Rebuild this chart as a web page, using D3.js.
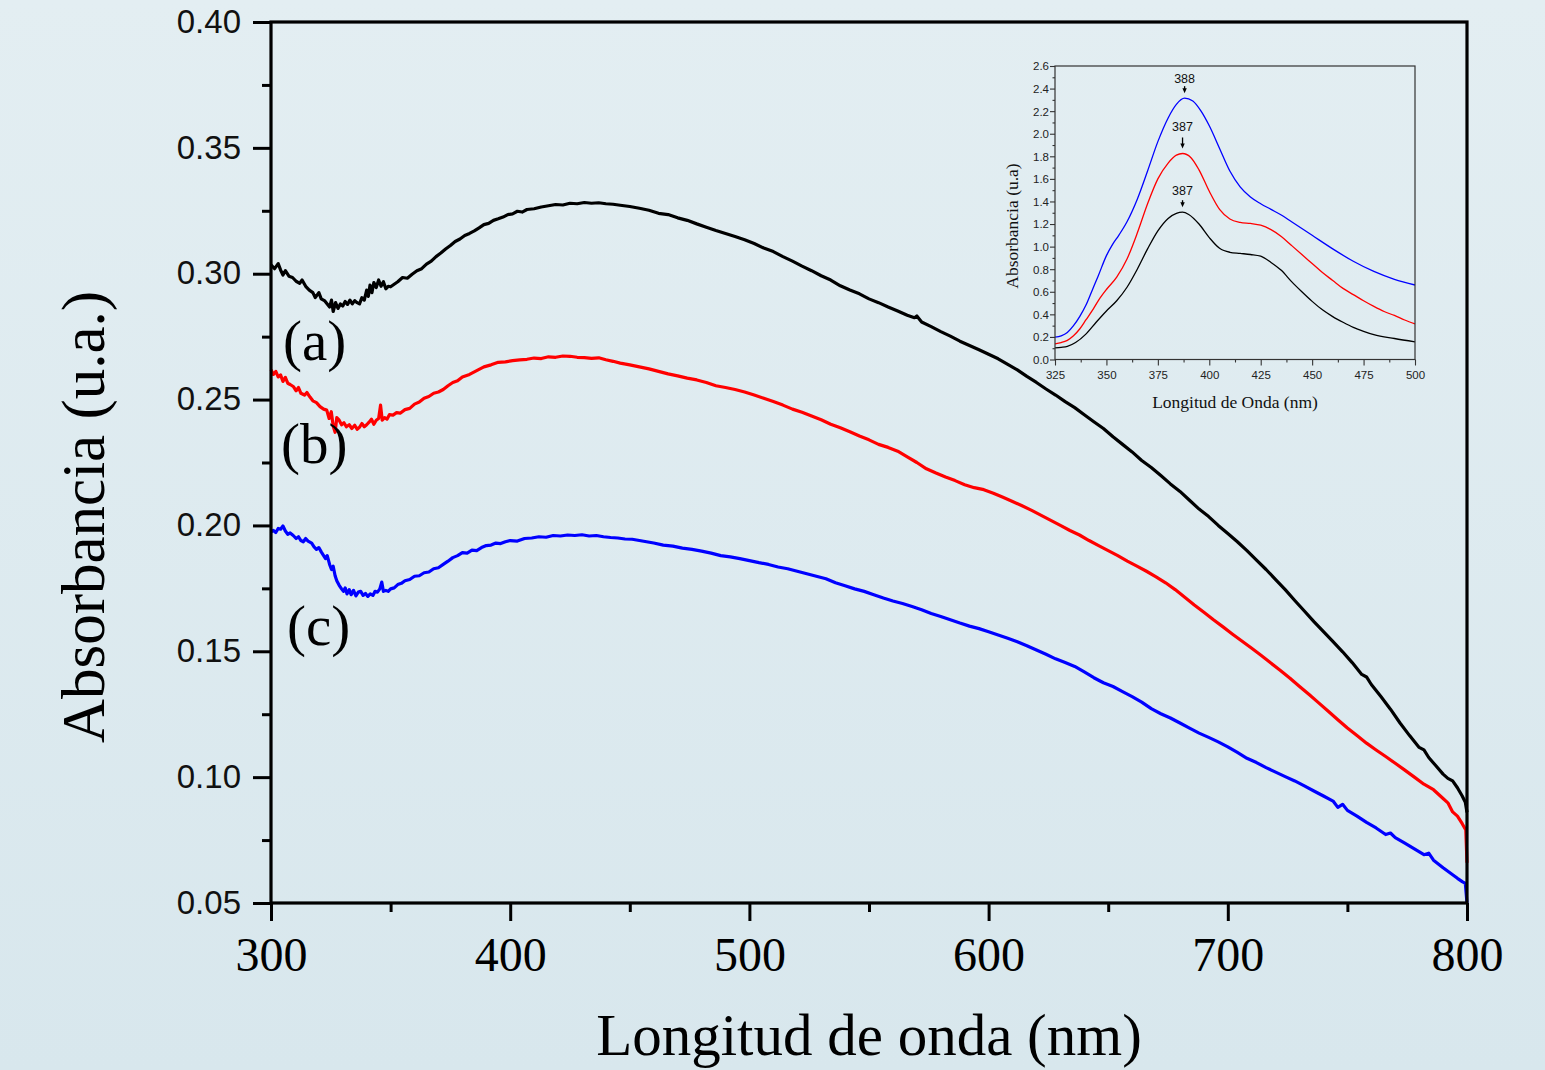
<!DOCTYPE html>
<html>
<head>
<meta charset="utf-8">
<script src="https://cdn.jsdelivr.net/npm/d3@7"></script>
<style>
  html, body { margin: 0; padding: 0; background: #dde9ee; }
  svg { display: block; }
</style>
</head>
<body>
<svg id="chart" width="1545" height="1070"></svg>
<script>
// ---- Main spectra: [wavelength nm, absorbance] ----
const seriesA = [
  [300,0.3035],[301.5,0.3020],[303,0.3040],[304,0.3015],[305,0.2995],[306,0.3012],[307.5,0.2990],[309,0.2985],
  [310.5,0.2970],[312,0.2962],[313,0.2975],[314.5,0.2950],[316,0.2935],[317.5,0.2925],[318.5,0.2905],[320,0.2925],
  [321,0.2900],[322.5,0.2892],[323.5,0.2880],[324.5,0.2868],[325.3,0.2895],[326,0.2850],[327,0.2885],[328,0.2862],
  [329,0.2880],[330,0.2872],[331,0.2890],[332,0.2878],[333,0.2895],[334,0.2880],[335,0.2893],[336,0.2885],
  [337,0.2880],[338,0.2905],[339,0.2895],[340,0.2935],[340.7,0.2910],[341.4,0.2955],[342.2,0.2925],[343,0.2965],
  [344,0.2945],[345,0.2975],[346,0.2950],[347,0.2968],[348,0.2940],[349,0.2950],[350,0.2948],[351.5,0.2958],
  [353,0.2968],[355,0.2985],[357,0.2982],[359,0.2998],[361,0.3012],[363,0.3020],[365,0.3038],[367,0.3050],
  [369,0.3068],[371,0.3082],[373,0.3098],[375,0.3112],[377,0.3128],[379,0.3138],[381,0.3152],[383,0.3160],
  [385,0.3170],[387,0.3182],[389,0.3195],[391,0.3200],[393,0.3212],[395,0.3218],[397,0.3225],[399,0.3235],
  [401,0.3238],[403,0.3248],[405,0.3245],[407,0.3255],[410,0.3258],[413,0.3265],[416,0.3270],[419,0.3275],
  [422,0.3273],[425,0.3280],[428,0.3278],[431,0.3283],[434,0.3280],[437,0.3282],[440,0.3278],[443,0.3276],
  [446,0.3272],[450,0.3267],[454,0.3260],[458,0.3252],[462,0.3240],[466,0.3235],[470,0.3222],[474,0.3212],
  [478,0.3198],[482,0.3185],[486,0.3172],[490,0.3160],[494,0.3148],[498,0.3135],[502,0.3120],[506,0.3102],
  [510,0.3088],[514,0.3068],[518,0.3050],[522,0.3030],[526,0.3012],[530,0.2992],[534,0.2975],[538,0.2952],
  [542,0.2935],[546,0.2920],[550,0.2900],[554,0.2885],[558,0.2868],[562,0.2852],[566,0.2835],[569,0.2825],
  [570,0.2832],[572,0.2808],[576,0.2790],[580,0.2770],[584,0.2752],[588,0.2732],[592,0.2715],[596,0.2698],
  [600,0.2680],[604,0.2662],[608,0.2640],[612,0.2618],[616,0.2592],[620,0.2568],[624,0.2542],[628,0.2518],
  [632,0.2492],[636,0.2468],[640,0.2440],[644,0.2412],[648,0.2385],[652,0.2352],[656,0.2322],[660,0.2292],
  [664,0.2258],[668,0.2230],[672,0.2198],[676,0.2165],[680,0.2135],[684,0.2100],[688,0.2065],[692,0.2035],
  [696,0.2000],[700,0.1968],[704,0.1935],[708,0.1900],[712,0.1862],[716,0.1825],[720,0.1785],[724,0.1745],
  [728,0.1702],[732,0.1660],[736,0.1618],[740,0.1578],[744,0.1538],[748,0.1498],[752,0.1455],[756,0.1408],
  [758,0.1398],[760,0.1368],[764,0.1320],[768,0.1270],[772,0.1215],[776,0.1165],[780,0.1118],[782,0.1108],
  [784,0.1078],[787,0.1045],[790,0.1012],[792,0.0995],[794,0.0985],[796,0.0958],[798,0.0925],[799.3,0.0900],
  [800,0.0860]
];

const seriesB = [
  [300,0.2618],[301,0.2600],[302,0.2612],[303,0.2590],[304,0.2598],[305,0.2572],[306,0.2588],[307,0.2565],
  [308,0.2560],[309.3,0.2552],[310.5,0.2535],[311.5,0.2548],[312.5,0.2525],[314,0.2518],[315,0.2528],[316.3,0.2510],
  [317.5,0.2495],[319,0.2488],[320.5,0.2472],[322,0.2462],[323.3,0.2458],[324.3,0.2425],[325.2,0.2452],[326,0.2395],
  [326.8,0.2370],[327.5,0.2428],[328.5,0.2418],[329.5,0.2400],[330.5,0.2408],[331.5,0.2392],[332.7,0.2400],[333.8,0.2385],
  [335,0.2398],[336,0.2382],[337,0.2390],[338,0.2405],[339,0.2392],[340,0.2400],[341,0.2410],[342,0.2422],
  [343,0.2402],[344,0.2418],[345,0.2425],[345.8,0.2478],[346.5,0.2418],[347.5,0.2428],[348.5,0.2422],[349.5,0.2440],
  [351,0.2438],[352.5,0.2448],[354,0.2446],[356,0.2460],[358,0.2465],[360,0.2482],[362,0.2490],[364,0.2505],
  [366,0.2512],[368,0.2525],[370,0.2530],[372,0.2540],[374,0.2555],[376,0.2568],[378,0.2575],[380,0.2590],
  [383,0.2600],[386,0.2615],[389,0.2630],[392,0.2638],[395,0.2648],[398,0.2650],[401,0.2655],[404,0.2658],
  [407,0.2660],[410,0.2665],[413,0.2663],[416,0.2670],[419,0.2668],[422,0.2673],[425,0.2672],[428,0.2668],
  [431,0.2667],[434,0.2664],[437,0.2666],[440,0.2658],[443,0.2652],[446,0.2645],[450,0.2638],[454,0.2630],
  [458,0.2622],[462,0.2612],[466,0.2602],[470,0.2594],[474,0.2585],[478,0.2578],[482,0.2568],[486,0.2555],
  [490,0.2548],[494,0.2540],[498,0.2530],[502,0.2518],[506,0.2505],[510,0.2492],[514,0.2478],[518,0.2462],
  [522,0.2450],[526,0.2435],[530,0.2420],[534,0.2402],[538,0.2388],[542,0.2372],[546,0.2355],[550,0.2340],
  [554,0.2322],[558,0.2310],[562,0.2295],[566,0.2272],[570,0.2250],[574,0.2225],[578,0.2208],[582,0.2192],
  [586,0.2178],[590,0.2162],[594,0.2150],[598,0.2142],[602,0.2128],[606,0.2112],[610,0.2095],[614,0.2078],
  [618,0.2060],[622,0.2040],[626,0.2020],[630,0.2000],[634,0.1980],[638,0.1962],[642,0.1940],[646,0.1920],
  [650,0.1900],[654,0.1880],[658,0.1858],[662,0.1838],[666,0.1818],[670,0.1796],[674,0.1772],[678,0.1745],
  [682,0.1715],[686,0.1684],[690,0.1655],[694,0.1625],[698,0.1597],[702,0.1568],[706,0.1540],[710,0.1512],
  [714,0.1483],[718,0.1453],[722,0.1424],[726,0.1393],[730,0.1360],[734,0.1328],[738,0.1295],[742,0.1262],
  [746,0.1228],[750,0.1195],[754,0.1165],[758,0.1135],[762,0.1108],[766,0.1082],[770,0.1055],[774,0.1028],
  [778,0.1000],[782,0.0972],[786,0.0950],[790,0.0915],[792,0.0898],[794,0.0862],[796,0.0845],[798,0.0815],
  [799.5,0.0790],[800,0.0660]
];

const seriesC = [
  [300,0.1975],[301,0.1980],[302,0.1972],[303,0.1988],[304,0.1985],[305,0.1998],[306,0.1978],[307,0.1965],
  [308,0.1970],[309.3,0.1960],[310.5,0.1948],[311.5,0.1955],[312.5,0.1940],[313.5,0.1935],[314.5,0.1948],[315.5,0.1938],
  [317,0.1930],[318,0.1915],[319,0.1905],[320,0.1912],[321,0.1895],[322,0.1880],[322.8,0.1868],[323.5,0.1880],
  [324.5,0.1845],[325.3,0.1825],[326,0.1838],[326.8,0.1800],[327.5,0.1780],[328.5,0.1762],[329.5,0.1748],[330.3,0.1738],
  [331,0.1752],[331.8,0.1728],[332.7,0.1745],[333.5,0.1725],[334.5,0.1742],[335.5,0.1720],[336.5,0.1735],[337.5,0.1738],
  [338.5,0.1722],[339.5,0.1730],[340.5,0.1718],[341.5,0.1728],[342.6,0.1722],[343.5,0.1738],[344.5,0.1735],[345.5,0.1748],
  [346.3,0.1775],[347,0.1738],[348,0.1742],[349,0.1738],[350,0.1748],[351.5,0.1752],[353,0.1765],[354.5,0.1770],
  [356,0.1780],[358,0.1785],[360,0.1798],[362,0.1800],[364,0.1812],[366,0.1815],[368,0.1828],[370,0.1832],
  [372,0.1845],[374,0.1858],[376,0.1872],[378,0.1880],[380,0.1892],[382,0.1890],[384,0.1902],[386,0.1900],
  [388,0.1912],[390,0.1920],[392,0.1922],[394,0.1930],[396,0.1928],[398,0.1935],[400,0.1940],[403,0.1938],
  [406,0.1948],[409,0.1950],[412,0.1955],[415,0.1953],[418,0.1960],[421,0.1958],[424,0.1962],[427,0.1960],
  [430,0.1963],[433,0.1958],[436,0.1960],[439,0.1955],[442,0.1952],[445,0.1950],[448,0.1946],[451,0.1945],
  [454,0.1940],[457,0.1935],[460,0.1930],[464,0.1922],[468,0.1918],[472,0.1910],[476,0.1905],[480,0.1898],
  [484,0.1890],[488,0.1880],[492,0.1875],[496,0.1868],[500,0.1860],[504,0.1852],[508,0.1845],[512,0.1835],
  [516,0.1828],[520,0.1818],[524,0.1808],[528,0.1798],[532,0.1788],[536,0.1772],[540,0.1760],[544,0.1748],
  [548,0.1738],[552,0.1725],[556,0.1712],[560,0.1700],[564,0.1690],[568,0.1678],[572,0.1665],[576,0.1650],
  [580,0.1638],[584,0.1625],[588,0.1612],[592,0.1600],[596,0.1590],[600,0.1578],[604,0.1565],[608,0.1552],
  [612,0.1538],[616,0.1522],[620,0.1505],[624,0.1488],[628,0.1470],[632,0.1455],[636,0.1440],[640,0.1418],
  [644,0.1395],[648,0.1375],[652,0.1360],[656,0.1340],[660,0.1320],[664,0.1298],[668,0.1272],[672,0.1252],
  [676,0.1235],[680,0.1215],[684,0.1195],[688,0.1175],[692,0.1158],[696,0.1140],[700,0.1120],[704,0.1098],
  [708,0.1075],[712,0.1058],[716,0.1038],[720,0.1020],[724,0.1002],[728,0.0985],[732,0.0965],[736,0.0945],
  [740,0.0925],[744,0.0905],[746,0.0880],[748,0.0892],[750,0.0868],[754,0.0845],[758,0.0820],[762,0.0798],
  [766,0.0772],[768,0.0778],[770,0.0760],[774,0.0738],[778,0.0715],[782,0.0692],[784,0.0698],[786,0.0670],
  [790,0.0640],[794,0.0612],[796,0.0598],[798,0.0585],[799.3,0.0578],[800,0.0500]
];

const seriesColors = ["#000000", "#ff0000", "#0000ff"];
const seriesLabels = ["(a)", "(b)", "(c)"];

// ---- Inset spectra (325-500 nm) ----
const insetBlack = [
  [325,0.103],[328,0.108],[331,0.116],[335,0.150],[340,0.225],[345,0.330],[350,0.430],[355,0.520],
  [360,0.640],[365,0.800],[370,0.980],[375,1.140],[380,1.250],[384,1.295],[387,1.305],[390,1.285],
  [395,1.200],[400,1.080],[405,0.985],[410,0.950],[415,0.940],[420,0.930],[425,0.915],[430,0.860],
  [435,0.790],[440,0.690],[445,0.600],[450,0.515],[455,0.440],[460,0.380],[465,0.330],[470,0.285],
  [475,0.250],[480,0.220],[490,0.186],[500,0.157]
];
const insetRed = [
  [325,0.139],[328,0.150],[331,0.170],[334,0.210],[337,0.270],[340,0.350],[343,0.430],[346,0.520],
  [350,0.620],[355,0.730],[360,0.890],[365,1.120],[370,1.380],[375,1.600],[380,1.740],[384,1.810],
  [387,1.825],[391,1.790],[395,1.680],[400,1.490],[405,1.330],[410,1.245],[415,1.215],[420,1.205],
  [425,1.190],[430,1.150],[435,1.090],[440,1.010],[445,0.930],[450,0.850],[455,0.770],[460,0.700],
  [465,0.630],[470,0.575],[475,0.520],[480,0.470],[485,0.425],[490,0.390],[495,0.350],[500,0.316]
];
const insetBlue = [
  [325,0.198],[328,0.210],[331,0.240],[334,0.300],[337,0.380],[340,0.480],[343,0.610],[346,0.740],
  [350,0.920],[353,1.020],[356,1.100],[360,1.220],[365,1.420],[370,1.670],[375,1.930],[380,2.140],
  [384,2.260],[388,2.315],[392,2.290],[396,2.200],[400,2.070],[405,1.870],[410,1.670],[415,1.530],
  [420,1.440],[425,1.380],[430,1.330],[435,1.280],[440,1.220],[450,1.100],[460,0.980],[470,0.870],
  [480,0.780],[490,0.710],[500,0.660]
];
const insetColors = ["#000000", "#ff0000", "#0000ff"];
// Band maxima marked in the inset (nm), one per inset series
const peakWavelengths = [387, 387, 388];

// ---- Tick values ----
const xMajorTicks = [300, 400, 500, 600, 700, 800];
const xMinorTicks = [350, 450, 550, 650, 750];
const yMajorTicks = [0.05, 0.10, 0.15, 0.20, 0.25, 0.30, 0.35, 0.40];
const yMinorTicks = [0.075, 0.125, 0.175, 0.225, 0.275, 0.325, 0.375];
const insetXMajor = [325, 350, 375, 400, 425, 450, 475, 500];
const insetXMinor = [337.5, 362.5, 387.5, 412.5, 437.5, 462.5, 487.5];
const insetYMajor = [0, 0.2, 0.4, 0.6, 0.8, 1.0, 1.2, 1.4, 1.6, 1.8, 2.0, 2.2, 2.4, 2.6];
const insetYMinor = [0.1, 0.3, 0.5, 0.7, 0.9, 1.1, 1.3, 1.5, 1.7, 1.9, 2.1, 2.3, 2.5];

const xTitle = "Longitud de onda (nm)";
const yTitle = "Absorbancia (u.a.)";
const insetXTitle = "Longitud de Onda (nm)";
const insetYTitle = "Absorbancia (u.a)";

const SERIF = "'Liberation Serif', 'Times New Roman', serif";
const SANS = "'Liberation Sans', Arial, sans-serif";

const svg = d3.select("#chart");

// background wash
const defs = svg.append("defs");
const grad = defs.append("linearGradient").attr("id", "bg").attr("x1", 0).attr("y1", 0).attr("x2", 0).attr("y2", 1);
grad.append("stop").attr("offset", "0%").attr("stop-color", "#e3eef2");
grad.append("stop").attr("offset", "100%").attr("stop-color", "#d8e7ed");
svg.append("rect").attr("width", 1545).attr("height", 1070).attr("fill", "url(#bg)");

// ---- main plot ----
const x = d3.scaleLinear().domain([300, 800]).range([271, 1467]);
const y = d3.scaleLinear().domain([0.05, 0.40]).range([903, 22]);

function styleAxis(g, width) {
  g.select(".domain").remove();
  g.selectAll(".tick line").attr("stroke", "#000").attr("stroke-width", width);
}

const xAxisG = svg.append("g").attr("transform", `translate(0,${y(0.05)})`)
  .call(d3.axisBottom(x).tickValues(xMajorTicks).tickSize(18).tickSizeOuter(0).tickFormat(d3.format("d")));
styleAxis(xAxisG, 3);
xAxisG.selectAll(".tick text").attr("y", 68).attr("dy", 0)
  .attr("font-family", SERIF).attr("font-size", 48).attr("fill", "#000");

const xMinorG = svg.append("g").attr("transform", `translate(0,${y(0.05)})`)
  .call(d3.axisBottom(x).tickValues(xMinorTicks).tickSize(9).tickSizeOuter(0).tickFormat(""));
styleAxis(xMinorG, 3);

const yAxisG = svg.append("g").attr("transform", `translate(${x(300)},0)`)
  .call(d3.axisLeft(y).tickValues(yMajorTicks).tickSize(18).tickSizeOuter(0).tickFormat(d3.format(".2f")));
styleAxis(yAxisG, 3);
yAxisG.selectAll(".tick text").attr("x", -30).attr("dy", "0.31em")
  .attr("font-family", SANS).attr("font-size", 33).attr("fill", "#111");

const yMinorG = svg.append("g").attr("transform", `translate(${x(300)},0)`)
  .call(d3.axisLeft(y).tickValues(yMinorTicks).tickSize(9).tickSizeOuter(0).tickFormat(""));
styleAxis(yMinorG, 3);

// spectra
const line = d3.line().x(d => x(d[0])).y(d => y(d[1]));
[seriesA, seriesB, seriesC].forEach((s, i) => {
  svg.append("path").datum(s)
    .attr("d", line)
    .attr("fill", "none")
    .attr("stroke", seriesColors[i])
    .attr("stroke-width", 3.2)
    .attr("stroke-linejoin", "round");
});

// frame
svg.append("rect")
  .attr("x", x(300)).attr("y", y(0.40))
  .attr("width", x(800) - x(300)).attr("height", y(0.05) - y(0.40))
  .attr("fill", "none").attr("stroke", "#000").attr("stroke-width", 3.2);

// curve labels
const labelAnchors = [[305, 0.2657], [304.2, 0.2248], [306.7, 0.1525]];
seriesLabels.forEach((t, i) => {
  svg.append("text")
    .attr("x", x(labelAnchors[i][0])).attr("y", y(labelAnchors[i][1]))
    .attr("font-family", SERIF).attr("font-size", 57).attr("fill", "#000")
    .text(t);
});

// axis titles
svg.append("text")
  .attr("x", (x(300) + x(800)) / 2).attr("y", 1055)
  .attr("text-anchor", "middle")
  .attr("font-family", SERIF).attr("font-size", 59).attr("fill", "#000")
  .text(xTitle);

svg.append("text")
  .attr("transform", `translate(104,${517}) rotate(-90)`)
  .attr("text-anchor", "middle")
  .attr("font-family", SERIF).attr("font-size", 61).attr("fill", "#000")
  .text(yTitle);

// ---- inset ----
const xi = d3.scaleLinear().domain([325, 500]).range([1055, 1415]);
const yi = d3.scaleLinear().domain([0, 2.6]).range([359.5, 66]);
const inset = svg.append("g");

function styleInset(g) {
  g.select(".domain").remove();
  g.selectAll(".tick line").attr("stroke", "#333").attr("stroke-width", 1.1);
}

const ixG = inset.append("g").attr("transform", `translate(0,${yi(0)})`)
  .call(d3.axisBottom(xi).tickValues(insetXMajor).tickSize(6).tickSizeOuter(0).tickFormat(d3.format("d")));
styleInset(ixG);
ixG.selectAll(".tick text").attr("y", 19.5).attr("dy", 0)
  .attr("font-family", SANS).attr("font-size", 11.5).attr("fill", "#222");
const ixmG = inset.append("g").attr("transform", `translate(0,${yi(0)})`)
  .call(d3.axisBottom(xi).tickValues(insetXMinor).tickSize(3).tickSizeOuter(0).tickFormat(""));
styleInset(ixmG);

const iyG = inset.append("g").attr("transform", `translate(${xi(325)},0)`)
  .call(d3.axisLeft(yi).tickValues(insetYMajor).tickSize(5).tickSizeOuter(0).tickFormat(d3.format(".1f")));
styleInset(iyG);
iyG.selectAll(".tick text").attr("x", -6).attr("dy", "0.34em")
  .attr("font-family", SANS).attr("font-size", 11.5).attr("fill", "#222");
const iymG = inset.append("g").attr("transform", `translate(${xi(325)},0)`)
  .call(d3.axisLeft(yi).tickValues(insetYMinor).tickSize(2.5).tickSizeOuter(0).tickFormat(""));
styleInset(iymG);

const iline = d3.line().x(d => xi(d[0])).y(d => yi(d[1])).curve(d3.curveMonotoneX);
const insetSeries = [insetBlack, insetRed, insetBlue];
insetSeries.forEach((s, i) => {
  inset.append("path").datum(s)
    .attr("d", iline)
    .attr("fill", "none")
    .attr("stroke", insetColors[i])
    .attr("stroke-width", 1.3);
});

inset.append("rect")
  .attr("x", xi(325)).attr("y", yi(2.6))
  .attr("width", xi(500) - xi(325)).attr("height", yi(0) - yi(2.6))
  .attr("fill", "none").attr("stroke", "#333").attr("stroke-width", 1.2);

// peak markers: label + small downward arrow above each band maximum
const arrowLen = [7, 11, 7];
const labelGap = [8, 9, 6];
insetSeries.forEach((s, i) => {
  const nm = peakWavelengths[i];
  const pt = s.find(d => d[0] === nm);
  const px = xi(nm);
  const tip = yi(pt[1]) - 5;
  const top = tip - arrowLen[i];
  inset.append("line")
    .attr("x1", px).attr("x2", px).attr("y1", top).attr("y2", tip - 3)
    .attr("stroke", "#000").attr("stroke-width", 1.3);
  inset.append("path")
    .attr("d", `M${px - 2.2},${tip - 5} L${px + 2.2},${tip - 5} L${px},${tip} Z`)
    .attr("fill", "#000");
  inset.append("text")
    .attr("x", px).attr("y", top - labelGap[i] + 3)
    .attr("text-anchor", "middle")
    .attr("font-family", SANS).attr("font-size", 12.5).attr("fill", "#111")
    .text(String(nm));
});

inset.append("text")
  .attr("x", (xi(325) + xi(500)) / 2).attr("y", 408)
  .attr("text-anchor", "middle")
  .attr("font-family", SERIF).attr("font-size", 17.5).attr("fill", "#111")
  .text(insetXTitle);

inset.append("text")
  .attr("transform", `translate(1018,226) rotate(-90)`)
  .attr("text-anchor", "middle")
  .attr("font-family", SERIF).attr("font-size", 17.5).attr("fill", "#111")
  .text(insetYTitle);
</script>
</body>
</html>
